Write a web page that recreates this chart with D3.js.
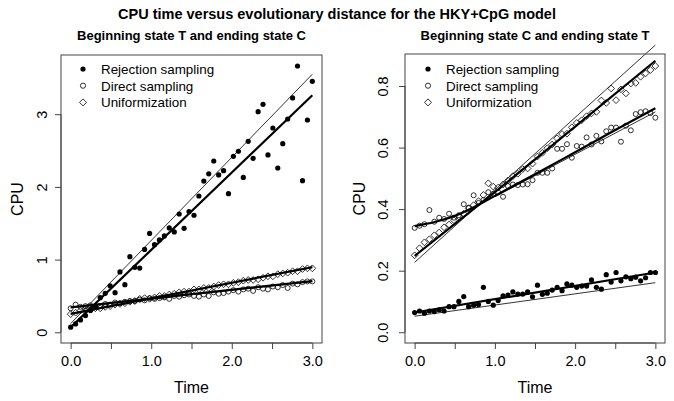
<!DOCTYPE html>
<html>
<head>
<meta charset="utf-8">
<script src="https://cdn.jsdelivr.net/npm/d3@7"></script>
<style>
  body { margin: 0; background: #fff; }
  text { font-family: "Liberation Sans", Arial, sans-serif; fill: #000; }
</style>
</head>
<body>
<div id="chart"></div>
<script>
// evolutionary distance (time) grid, 50 points
const time = [0.000, 0.061, 0.122, 0.184, 0.245, 0.306, 0.367, 0.429, 0.490, 0.551,
  0.612, 0.673, 0.735, 0.796, 0.857, 0.918, 0.980, 1.041, 1.102, 1.163,
  1.224, 1.286, 1.347, 1.408, 1.469, 1.531, 1.592, 1.653, 1.714, 1.776,
  1.837, 1.898, 1.959, 2.020, 2.082, 2.143, 2.204, 2.265, 2.327, 2.388,
  2.449, 2.510, 2.571, 2.633, 2.694, 2.755, 2.816, 2.878, 2.939, 3.000];

const seriesNames = ["Rejection sampling", "Direct sampling", "Uniformization"];

// T -> C panel
const rejTC = [0.07, 0.115, 0.17, 0.23, 0.30, 0.36, 0.476, 0.536, 0.64, 0.545,
  0.83, 0.655, 1.04, 0.894, 0.884, 1.14, 1.36, 1.205, 1.27, 1.325,
  1.435, 1.38, 1.627, 1.43, 1.66, 1.61, 1.875, 2.08, 2.18, 2.356,
  2.164, 2.223, 1.907, 2.42, 2.49, 2.13, 2.627, 2.393, 3.035, 3.136,
  2.439, 2.81, 2.26, 2.594, 2.934, 3.223, 3.663, 2.085, 2.92, 3.452];
const directTC = [0.33, 0.38, 0.35, 0.36, 0.37, 0.35, 0.36, 0.39, 0.38, 0.41,
  0.40, 0.42, 0.43, 0.43, 0.45, 0.44, 0.47, 0.46, 0.47, 0.48,
  0.46, 0.50, 0.49, 0.51, 0.52, 0.50, 0.49, 0.52, 0.50, 0.55,
  0.53, 0.54, 0.56, 0.58, 0.56, 0.59, 0.60, 0.57, 0.62, 0.60,
  0.59, 0.63, 0.62, 0.65, 0.61, 0.67, 0.66, 0.69, 0.70, 0.70];
const unifTC = [0.25, 0.27, 0.30, 0.30, 0.31, 0.33, 0.33, 0.35, 0.36, 0.38,
  0.39, 0.40, 0.42, 0.43, 0.46, 0.47, 0.46, 0.48, 0.50, 0.50,
  0.52, 0.53, 0.55, 0.56, 0.56, 0.59, 0.59, 0.61, 0.61, 0.63,
  0.65, 0.66, 0.66, 0.68, 0.69, 0.71, 0.72, 0.72, 0.73, 0.75,
  0.77, 0.77, 0.80, 0.81, 0.82, 0.84, 0.84, 0.87, 0.88, 0.88];

// C -> T panel
const rejCT = [0.064, 0.069, 0.062, 0.069, 0.067, 0.073, 0.069, 0.083, 0.083, 0.100,
  0.116, 0.083, 0.088, 0.090, 0.146, 0.100, 0.088, 0.103, 0.118, 0.121,
  0.131, 0.124, 0.124, 0.131, 0.115, 0.153, 0.123, 0.127, 0.137, 0.146,
  0.135, 0.157, 0.153, 0.146, 0.150, 0.150, 0.170, 0.146, 0.140, 0.187,
  0.163, 0.194, 0.167, 0.180, 0.174, 0.179, 0.167, 0.177, 0.194, 0.194];
const directCT = [0.339, 0.346, 0.351, 0.397, 0.359, 0.372, 0.368, 0.385, 0.372, 0.380,
  0.416, 0.405, 0.445, 0.420, 0.430, 0.455, 0.450, 0.455, 0.440, 0.475,
  0.480, 0.478, 0.480, 0.481, 0.494, 0.518, 0.518, 0.518, 0.532, 0.596,
  0.596, 0.611, 0.567, 0.605, 0.603, 0.633, 0.610, 0.638, 0.620, 0.653,
  0.665, 0.665, 0.619, 0.671, 0.656, 0.709, 0.715, 0.718, 0.712, 0.697];
const unifCT = [0.250, 0.273, 0.292, 0.302, 0.315, 0.324, 0.341, 0.350, 0.364, 0.376,
  0.385, 0.402, 0.413, 0.426, 0.446, 0.484, 0.473, 0.470, 0.480, 0.493,
  0.507, 0.515, 0.530, 0.532, 0.548, 0.571, 0.583, 0.598, 0.610, 0.630,
  0.644, 0.645, 0.666, 0.680, 0.689, 0.702, 0.711, 0.716, 0.753, 0.745,
  0.792, 0.754, 0.789, 0.776, 0.808, 0.810, 0.830, 0.841, 0.852, 0.865];

// fitted (thick) and expected (thin) curves, [time, cpu]
const fitsTC = [
  [[0, 0.07], [3, 3.26]],
  [[0, 0.345], [3, 0.705]],
  [[0, 0.255], [3, 0.895]]
];
const thinTC = [
  [[0, 0.12], [3, 3.55]],
  [[0, 0.335], [3, 0.70]],
  [[0, 0.245], [3, 0.90]]
];
const fitsCT = [
  [[0, 0.064], [3, 0.194]],
  [[0, 0.345], [0.25, 0.358], [0.5, 0.378], [0.75, 0.408], [1.0, 0.443], [1.5, 0.513], [2, 0.585], [2.5, 0.657], [3, 0.728]],
  [[0, 0.248], [1, 0.455], [2, 0.668], [3, 0.882]]
];
const thinCT = [
  [[0, 0.052], [3, 0.161]],
  [[1.0, 0.44], [3, 0.716]],
  [[0, 0.227], [3, 0.933]]
];

const xTicks = [0, 0.5, 1, 1.5, 2, 2.5, 3];
const xTickLabels = ["0.0", "", "1.0", "", "2.0", "", "3.0"];
const yTicksTC = [0, 1, 2, 3];
const yTicksCT = [0, 0.2, 0.4, 0.6, 0.8];

const width = 674, height = 401;

const svg = d3.select("#chart").append("svg")
  .attr("width", width)
  .attr("height", height);

svg.append("text")
  .attr("x", 337).attr("y", 19)
  .attr("text-anchor", "middle")
  .style("font-size", "14.5px").style("font-weight", "bold")
  .text("CPU time versus evolutionary distance for the HKY+CpG model");

function symbol(g, kind, x, y, r) {
  if (kind === 0) {
    g.append("circle").attr("cx", x).attr("cy", y).attr("r", r).attr("fill", "#000");
  } else if (kind === 1) {
    g.append("circle").attr("cx", x).attr("cy", y).attr("r", r)
      .attr("fill", "none").attr("stroke", "#000").attr("stroke-width", 0.8);
  } else {
    const d = r * 1.35;
    g.append("path")
      .attr("d", `M${x},${y - d}L${x + d},${y}L${x},${y + d}L${x - d},${y}Z`)
      .attr("fill", "none").attr("stroke", "#000").attr("stroke-width", 0.8);
  }
}

function drawPanel(p) {
  const g = svg.append("g");
  const x = d3.scaleLinear().domain([-0.12, 3.12]).range([p.left, p.right]);
  const y = d3.scaleLinear().domain(p.yDomain).range([p.bottom, p.top]);

  g.append("text")
    .attr("x", (p.left + p.right) / 2).attr("y", 40)
    .attr("text-anchor", "middle")
    .style("font-size", "13px").style("font-weight", "bold")
    .text(p.title);

  // points
  const sets = [p.rej, p.direct, p.unif];
  sets.forEach((vals, k) => {
    vals.forEach((v, i) => symbol(g, k, x(time[i]), y(v), k === 0 ? 2.6 : 2.5));
  });

  const line = d3.line().x(d => x(d[0])).y(d => y(d[1]));
  const smooth = d3.line().x(d => x(d[0])).y(d => y(d[1])).curve(d3.curveMonotoneX);

  p.thin.forEach(pts => {
    g.append("path").attr("d", line(pts))
      .attr("fill", "none").attr("stroke", "#000").attr("stroke-width", 0.8);
  });
  p.fits.forEach(pts => {
    g.append("path").attr("d", smooth(pts))
      .attr("fill", "none").attr("stroke", "#000").attr("stroke-width", 2.2);
  });

  // box
  g.append("rect")
    .attr("x", p.left).attr("y", p.top)
    .attr("width", p.right - p.left).attr("height", p.bottom - p.top)
    .attr("fill", "none").attr("stroke", "#444").attr("stroke-width", 1);

  // x axis
  const xAxis = d3.axisBottom(x).tickValues(xTicks).tickSize(6)
    .tickFormat((d, i) => xTickLabels[i]);
  const gx = g.append("g").attr("transform", `translate(0,${p.bottom})`).call(xAxis);
  gx.select(".domain").attr("d", `M${x(0)},0H${x(3)}`).attr("stroke", "#444");
  gx.selectAll(".tick line").attr("stroke", "#444");
  gx.selectAll(".tick text").attr("y", 13).style("font-size", "14.5px")
    .style("font-family", '"Liberation Sans", Arial, sans-serif');

  // y axis
  const yAxis = d3.axisLeft(y).tickValues(p.yTicks).tickSize(6)
    .tickFormat(p.yFormat);
  const gy = g.append("g").attr("transform", `translate(${p.left},0)`).call(yAxis);
  gy.select(".domain")
    .attr("d", `M0,${y(p.yTicks[0])}V${y(p.yTicks[p.yTicks.length - 1])}`)
    .attr("stroke", "#444");
  gy.selectAll(".tick line").attr("stroke", "#444");
  gy.selectAll(".tick text")
    .attr("x", null).attr("dy", null)
    .attr("text-anchor", "middle")
    .attr("transform", `translate(${-p.left + p.yLabelX},0) rotate(-90)`)
    .style("font-size", "14.5px")
    .style("font-family", '"Liberation Sans", Arial, sans-serif');

  g.append("text")
    .attr("x", (p.left + p.right) / 2).attr("y", 392.5)
    .attr("text-anchor", "middle").style("font-size", "16px")
    .text("Time");
  g.append("text")
    .attr("transform", `translate(${p.cpuX},${(p.top + p.bottom) / 2}) rotate(-90)`)
    .attr("text-anchor", "middle").style("font-size", "16px")
    .text("CPU");

  // legend
  seriesNames.forEach((name, k) => {
    const ly = 69 + k * 16.7;
    symbol(g, k, p.legendX, ly, 2.6);
    g.append("text")
      .attr("x", p.legendX + 18).attr("y", ly + 4.8)
      .style("font-size", "13.4px")
      .text(name);
  });
}

drawPanel({
  title: "Beginning state T and ending state C",
  left: 61, right: 322, top: 55, bottom: 343,
  yDomain: [-0.147, 3.814], yTicks: yTicksTC, yFormat: d3.format("d"),
  rej: rejTC, direct: directTC, unif: unifTC,
  fits: fitsTC, thin: thinTC,
  yLabelX: 47, cpuX: 23, legendX: 83
});

drawPanel({
  title: "Beginning state C and ending state T",
  left: 405, right: 665, top: 54, bottom: 343,
  yDomain: [-0.035, 0.904], yTicks: yTicksCT, yFormat: d3.format(".1f"),
  rej: rejCT, direct: directCT, unif: unifCT,
  fits: fitsCT, thin: thinCT,
  yLabelX: 388, cpuX: 365, legendX: 428
});
</script>
</body>
</html>
